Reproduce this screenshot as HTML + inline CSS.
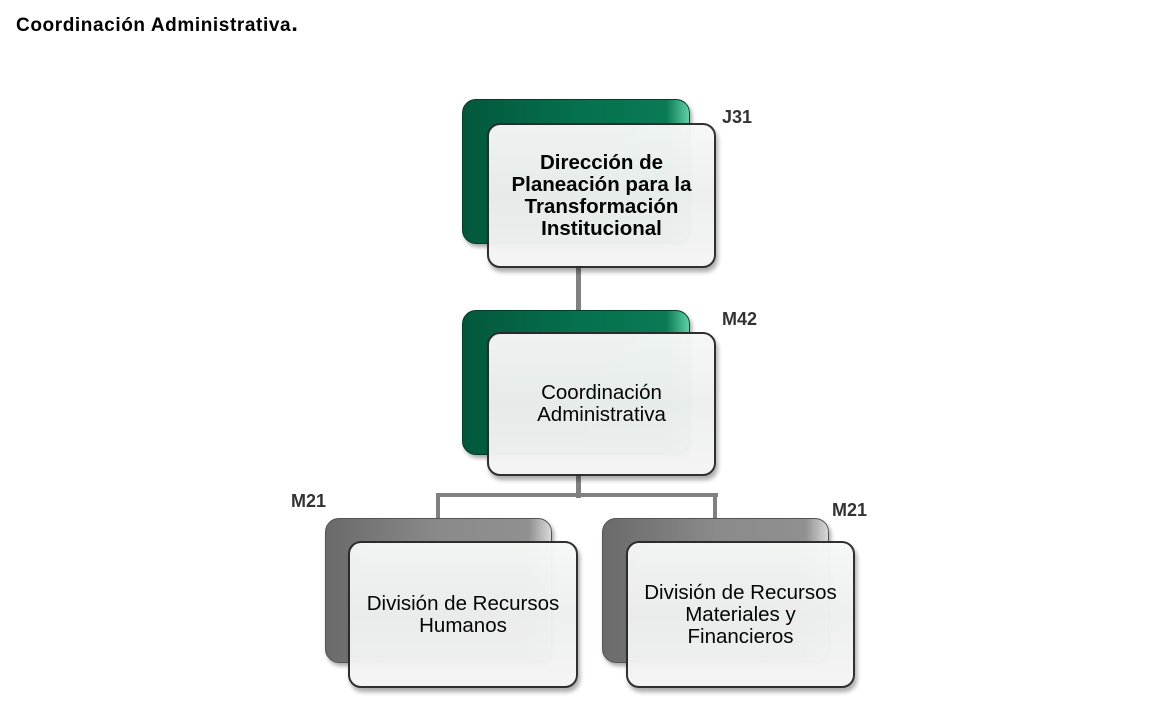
<!DOCTYPE html>
<html><head><meta charset="utf-8"><style>
body{margin:0;width:1159px;height:706px;background:#fff;position:relative;overflow:hidden;font-family:"Liberation Sans",sans-serif}
.t{position:absolute;left:16px;top:10px;font-size:19px;letter-spacing:0.6px;font-weight:bold;color:#000}
.back{position:absolute;border-radius:14px;box-shadow:2px 3px 4px rgba(0,0,0,.35)}
.g{background:linear-gradient(90deg,#03583c 0%,#05704d 50%,#0a7a55 90%,#5fcfa4 100%);border:1px solid #033d29}
.gr{background:linear-gradient(90deg,#6a6a6a 0%,#8a8a8a 50%,#909090 90%,#d8d8d8 100%);border:1px solid #555}
.front{position:absolute;border-radius:13px;border:2px solid #2a2a2a;background:linear-gradient(180deg,#f6f8f7,#eef0ef 50%,#f4f4f4);box-shadow:2px 4px 5px rgba(0,0,0,.35);display:flex;align-items:center;justify-content:center;text-align:center;font-size:20.5px;line-height:22px;color:#000;box-sizing:border-box;opacity:.97}
.lb{position:absolute;font-size:18px;font-weight:bold;color:#333}
.ln{position:absolute;background:#808080}
</style></head><body>
<div class="t">Coordinación Administrativa<span style="font-size:24px">.</span></div>

<div class="ln" style="left:576px;top:265px;width:5px;height:70px"></div>
<div class="ln" style="left:576px;top:474px;width:5px;height:24px"></div>
<div class="ln" style="left:436px;top:493px;width:282px;height:4px"></div>
<div class="ln" style="left:436px;top:493px;width:4px;height:28px"></div>
<div class="ln" style="left:713px;top:493px;width:4px;height:28px"></div>

<div class="back g" style="left:462px;top:99px;width:226px;height:143px"></div>
<div class="front" style="left:487px;top:123px;width:229px;height:145px;font-weight:bold">Dirección de<br>Planeación para la<br>Transformación<br>Institucional</div>
<div class="lb" style="left:722px;top:107px">J31</div>

<div class="back g" style="left:462px;top:310px;width:226px;height:143px"></div>
<div class="front" style="left:487px;top:332px;width:229px;height:144px">Coordinación<br>Administrativa</div>
<div class="lb" style="left:722px;top:309px">M42</div>

<div class="back gr" style="left:325px;top:518px;width:225px;height:143px"></div>
<div class="front" style="left:348px;top:541px;width:230px;height:147px">División de Recursos<br>Humanos</div>
<div class="lb" style="left:291px;top:491px">M21</div>

<div class="back gr" style="left:602px;top:518px;width:225px;height:143px"></div>
<div class="front" style="left:626px;top:541px;width:229px;height:147px">División de Recursos<br>Materiales y<br>Financieros</div>
<div class="lb" style="left:832px;top:500px">M21</div>
</body></html>
